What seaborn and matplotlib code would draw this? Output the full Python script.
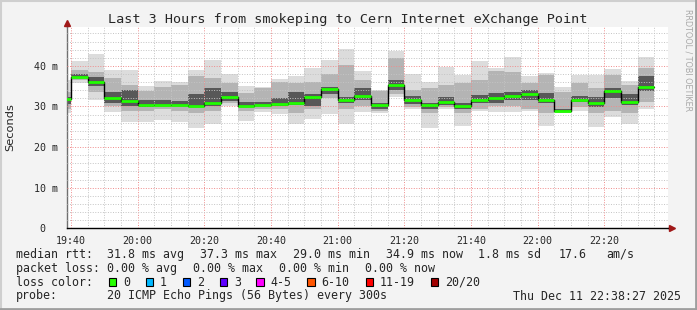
import matplotlib
matplotlib.use("Agg")
import numpy as np
import pandas as pd
import seaborn as sns
import matplotlib.pyplot as plt
import matplotlib.dates as mdates
from matplotlib.ticker import MultipleLocator, FixedLocator, FuncFormatter
from matplotlib.patches import Rectangle
from matplotlib.lines import Line2D

# ---------------- data (ms), one value per 5-minute step ----------------
start_time = "2025-12-11 19:35"
median_ms = [31.8, 37.3, 36.1, 32.2, 31.3, 30.3, 30.4, 30.4, 30.0, 30.9,
             32.3, 30.2, 30.4, 30.5, 30.9, 32.3, 34.2, 31.5, 32.6, 30.3,
             35.2, 31.7, 30.3, 31.0, 30.0, 31.7, 32.2, 32.7, 33.1, 31.7,
             28.9, 31.7, 30.9, 33.8, 31.0, 34.9]
max_ms = [36.5, 41.2, 42.9, 39.0, 39.0, 35.1, 36.3, 36.0, 39.0, 41.5,
          37.9, 35.1, 34.7, 36.8, 37.4, 39.6, 41.5, 44.2, 38.8, 34.1,
          43.7, 37.9, 36.0, 39.8, 37.8, 41.1, 39.6, 42.1, 37.6, 38.2,
          34.7, 37.8, 37.8, 39.3, 36.3, 42.3]
min_ms = [28.3, 35.7, 31.5, 28.6, 26.1, 26.1, 26.7, 26.3, 24.8, 25.6,
          30.1, 26.5, 28.6, 28.1, 25.6, 26.9, 28.1, 25.6, 28.6, 28.3,
          32.4, 29.4, 24.8, 29.5, 25.3, 28.9, 28.6, 28.6, 28.9, 25.3,
          28.3, 28.9, 25.0, 27.5, 25.8, 29.4]
mid_hi = [33.5, 39.0, 38.5, 37.0, 35.3, 33.7, 34.9, 35.3, 37.4, 37.0,
          35.7, 33.2, 34.5, 36.1, 35.7, 36.1, 37.9, 40.2, 36.5, 33.7,
          41.9, 34.1, 34.5, 35.3, 35.7, 36.5, 38.8, 38.5, 35.7, 37.8,
          33.5, 35.7, 34.5, 37.8, 35.3, 39.5]
mid_lo = [29.5, 36.5, 33.5, 30.0, 29.0, 29.0, 29.5, 29.0, 28.5, 29.0,
          30.8, 29.0, 29.5, 29.5, 28.5, 29.5, 32.0, 29.5, 30.0, 29.0,
          33.0, 29.8, 28.5, 29.8, 28.5, 29.5, 30.0, 30.0, 29.5, 28.5,
          29.0, 29.8, 28.5, 29.0, 28.5, 31.0]
core_hi = [32.4, 37.9, 37.2, 33.5, 34.0, 31.6, 31.5, 31.3, 33.0, 34.5,
           33.5, 31.0, 31.2, 32.0, 33.5, 33.0, 34.8, 32.3, 34.5, 30.8,
           36.5, 32.6, 30.8, 32.3, 30.8, 32.8, 33.2, 33.5, 34.0, 33.3,
           29.4, 32.5, 32.3, 34.5, 33.0, 37.5]
core_lo = [30.5, 37.0, 35.0, 30.8, 30.2, 29.8, 30.0, 30.0, 29.8, 30.2,
           31.3, 29.8, 30.0, 30.0, 30.4, 30.2, 33.0, 30.8, 31.5, 29.5,
           34.0, 30.5, 29.5, 30.3, 29.5, 30.8, 30.9, 31.5, 31.5, 30.8,
           28.7, 31.0, 29.8, 32.0, 30.3, 33.8]

loss_labels = ["0", "1", "2", "3", "4-5", "6-10", "11-19", "20/20"]
loss_colors = ["#26ff00", "#00b8ff", "#0059ff", "#5e00ff", "#ff00ff",
               "#ff5500", "#ff0000", "#a10000"]

title = "Last 3 Hours from smokeping to Cern Internet eXchange Point"

# ---------------- figure ----------------
W, H = 697, 310
sns.set_style("white")
plt.rcParams["font.family"] = ["DejaVu Sans Mono", "DejaVu Sans"]

fig = plt.figure(figsize=(W / 100, H / 100), dpi=100)
fig.patch.set_facecolor("#f3f3f3")

def fx(x):
    return x / W

def fy(y):
    return 1 - y / H

left, right, top, bottom = 66.7, 668.0, 27.3, 228.3
ax = fig.add_axes([fx(left), fy(bottom), (right - left) / W, (bottom - top) / H])
ax.set_facecolor("white")

times = pd.date_range(start_time, periods=len(median_ms), freq="5min")
step = pd.Timedelta("5min")
edges = times.append(pd.DatetimeIndex([times[-1] + step]))

def ext(a):
    a = np.asarray(a, dtype=float)
    return np.r_[a, a[-1]]

layers = [(min_ms, max_ms, "#dcdcdc"),
          (mid_lo, mid_hi, "#b4b4b4"),
          (core_lo, core_hi, "#585858")]
for lo, hi, col in layers:
    ax.fill_between(edges, ext(lo), ext(hi), step="post", color=col, lw=0, zorder=1)

med_df = pd.DataFrame({"t": edges, "v": ext(median_ms)})
sns.lineplot(data=med_df, x="t", y="v", ax=ax, color="black", lw=1.0,
             drawstyle="steps-post", estimator=None, zorder=3)
ax.hlines(median_ms, times, times + step, color="#20ff00", lw=2.0, zorder=4)

# axes limits / ticks
t0 = pd.Timestamp("2025-12-11 19:40")
ax.set_xlim(t0 + pd.Timedelta(minutes=-1.3), t0 + pd.Timedelta(minutes=179.1))
ax.set_ylim(0, 49.5)

ax.xaxis.set_major_locator(mdates.MinuteLocator(byminute=[0, 20, 40]))
ax.xaxis.set_minor_locator(mdates.MinuteLocator(byminute=[5, 10, 15, 25, 30, 35, 45, 50, 55]))
ax.xaxis.set_major_formatter(mdates.DateFormatter("%H:%M"))
ax.yaxis.set_major_locator(MultipleLocator(10))
ax.yaxis.set_minor_locator(FixedLocator([v for v in range(2, 50, 2) if v % 10]))
ax.yaxis.set_major_formatter(FuncFormatter(lambda v, p: "0  " if v == 0 else f"{v:.0f} m"))

ax.set_axisbelow(False)
ax.grid(which="minor", color="#c4c4c4", ls=(0, (1, 1.6)), lw=0.7, zorder=2)
ax.grid(which="major", color="#f08c8c", ls=(0, (1, 1.6)), lw=0.7, zorder=2)

ax.tick_params(axis="x", which="major", length=3, width=0.8, color="#333333",
               labelsize=7.2, pad=2.5)
ax.tick_params(axis="x", which="minor", length=2, width=0.8, color="#e07070")
ax.tick_params(axis="y", which="major", length=2, width=0.8, color="#555555",
               labelsize=7.2, pad=4)
ax.tick_params(axis="y", which="minor", length=0)
ax.set_xlabel("")
ax.set_ylabel("")

for s in ["top", "right"]:
    ax.spines[s].set_visible(False)
ax.spines["left"].set_color("#707070")
ax.spines["left"].set_linewidth(1.0)
ax.spines["bottom"].set_color("black")
ax.spines["bottom"].set_linewidth(1.0)

# arrows
ax.plot([0], [1.02], marker="^", ms=5, color="#a01818", transform=ax.transAxes,
        clip_on=False, zorder=6)
ax.add_line(Line2D([0, 0], [1.0, 1.02], transform=ax.transAxes, color="#707070",
                   lw=1.0, clip_on=False))
ax.plot([1.006], [0], marker=">", ms=5, color="#a01818", transform=ax.transAxes,
        clip_on=False, zorder=6)
ax.add_line(Line2D([1.0, 1.006], [0, 0], transform=ax.transAxes, color="black",
                   lw=1.0, clip_on=False))

# title and labels
fig.text(fx(348), fy(19), title, ha="center", va="center", fontsize=9.7)
fig.text(fx(10), fy(127), "Seconds", rotation=90, ha="center", va="center",
         fontsize=8.2, family=["DejaVu Sans"])
fig.text(fx(688), fy(60), "RRDTOOL / TOBI OETIKER", rotation=-90, ha="center",
         va="center", fontsize=5.8, color="#a8a8a8", family=["DejaVu Sans"])

fs = 8.4
def line(y, items):
    for x, s in items:
        fig.text(fx(x), fy(y), s, ha="left", va="center", fontsize=fs)

line(254.3, [(16, "median rtt:"), (107, "31.8 ms avg"), (200, "37.3 ms max"),
             (292.7, "29.0 ms min"), (386, "34.9 ms now"), (478.3, "1.8 ms sd"),
             (558.3, "17.6"), (606.7, "am/s")])
line(268.3, [(16, "packet loss:"), (107, "0.00 % avg"), (193.3, "0.00 % max"),
             (279.3, "0.00 % min"), (365, "0.00 % now")])
line(282.3, [(16, "loss color:")])
box_x = [108.7, 145.7, 182.7, 219.7, 256.0, 307.3, 365.7, 430.7]
lab_x = [123, 160, 197, 234, 270, 321.7, 380, 445]
for bx, lx, lab, col in zip(box_x, lab_x, loss_labels, loss_colors):
    fig.add_artist(Rectangle((fx(bx), fy(285.5)), 7.6 / W, 8 / H, facecolor=col,
                             edgecolor="black", lw=0.8, transform=fig.transFigure))
    fig.text(fx(lx), fy(282.3), lab, ha="left", va="center", fontsize=fs)
line(296, [(16, "probe:"), (107, "20 ICMP Echo Pings (56 Bytes) every 300s"),
           (513.3, "Thu Dec 11 22:38:27 2025")])

# frame shading
fig.add_artist(Line2D([0, 1], [fy(0.5), fy(0.5)], transform=fig.transFigure, color="#cfcfcf", lw=1.5))
fig.add_artist(Line2D([fx(0.5), fx(0.5)], [0, 1], transform=fig.transFigure, color="#cfcfcf", lw=1.5))
fig.add_artist(Line2D([0, 1], [fy(H - 1), fy(H - 1)], transform=fig.transFigure, color="#9e9e9e", lw=2))
fig.add_artist(Line2D([fx(W - 1), fx(W - 1)], [0, 1], transform=fig.transFigure, color="#9e9e9e", lw=2))

fig.savefig("out.png", dpi=100, facecolor=fig.get_facecolor())
